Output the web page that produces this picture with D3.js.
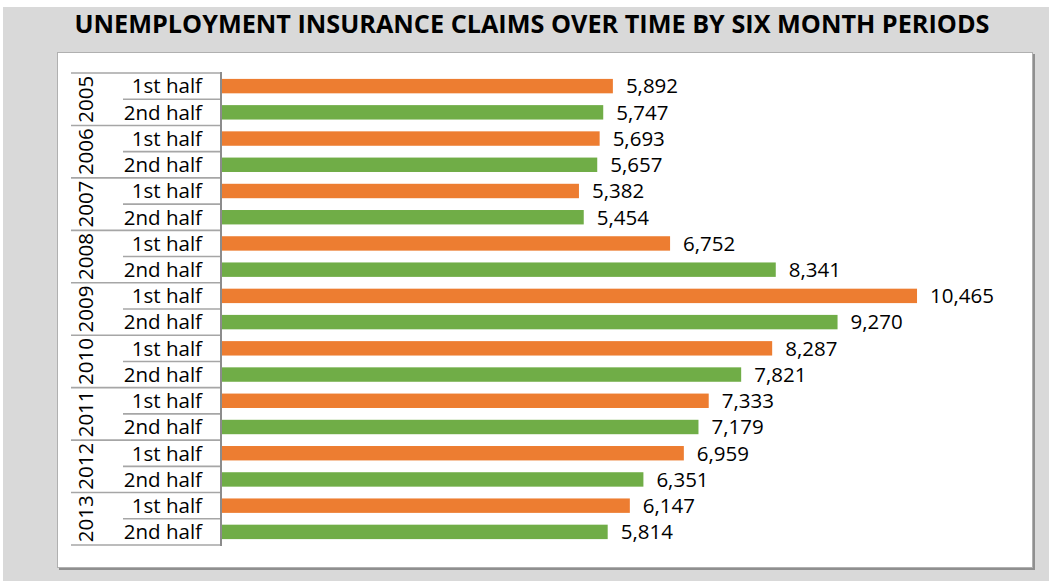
<!DOCTYPE html>
<html><head><meta charset="utf-8">
<script src="https://cdn.jsdelivr.net/npm/d3@7"></script>
<style>html,body{margin:0;padding:0;background:#fff;}svg{display:block;}</style>
</head><body>
<svg id="chart" width="1049" height="581"></svg>
<script>
const title = "UNEMPLOYMENT INSURANCE CLAIMS OVER TIME BY SIX MONTH PERIODS";
const years = ["2005","2006","2007","2008","2009","2010","2011","2012","2013"];
const halves = ["1st half","2nd half"];
const firstHalf = [5892, 5693, 5382, 6752, 10465, 8287, 7333, 6959, 6147];
const secondHalf = [5747, 5657, 5454, 8341, 9270, 7821, 7179, 6351, 5814];
const colors = {"1st half":"#ED7D31","2nd half":"#70AD47"};

const rows = [];
years.forEach((yr,i)=>{
  rows.push({year:yr, half:halves[0], value:firstHalf[i], key:yr+"-1"});
  rows.push({year:yr, half:halves[1], value:secondHalf[i], key:yr+"-2"});
});

const svg = d3.select("#chart");
const font = "'Open Sans', sans-serif";
const fs = 20.5;

// background
svg.append("rect").attr("x",3).attr("y",7).attr("width",1046).attr("height",574).attr("fill","#d9d9d9");
// panel shadow + panel
svg.append("rect").attr("x",59).attr("y",54).attr("width",976).attr("height",516).attr("fill","#8f8f8f");
svg.append("rect").attr("x",57.5).attr("y",52.5).attr("width",975).attr("height",515).attr("fill","#fff").attr("stroke","#b0b0b0").attr("stroke-width",1);

// title
svg.append("text").attr("x",532).attr("y",33).attr("text-anchor","middle")
  .attr("font-family",font).attr("font-weight","bold").attr("font-size",25)
  .attr("fill","#000").attr("textLength",915).attr("lengthAdjust","spacingAndGlyphs")
  .text(title);

const x0 = 221, plotTop = 73, plotBottom = 545;
const x = d3.scaleLinear().domain([0,12000]).range([x0, x0 + 12000*0.06651]);
const y = d3.scaleBand().domain(rows.map(d=>d.key)).range([plotTop,plotBottom]).paddingInner(0.45).paddingOuter(0.225);
const step = y.step();
const rowY = i => plotTop + i*step;

// bars
svg.append("g").selectAll("rect").data(rows).join("rect")
  .attr("x", x(0)).attr("y", d=>y(d.key))
  .attr("width", d=>x(d.value)-x(0)).attr("height", y.bandwidth())
  .attr("fill", d=>colors[d.half]);

// value labels
svg.append("g").selectAll("text").data(rows).join("text")
  .attr("x", d=>x(d.value)+13).attr("y", d=>y(d.key)+y.bandwidth()/2)
  .attr("dy","0.36em").attr("font-family",font).attr("font-size",fs).attr("fill","#000")
  .text(d=>d3.format(",")(d.value));

// category axis lines
const g = svg.append("g");
for (let i=0;i<=rows.length;i++){
  const yearBoundary = (i%2===0);
  g.append("line").attr("x1", yearBoundary?71:123).attr("x2", x0)
    .attr("y1", rowY(i)).attr("y2", rowY(i))
    .attr("stroke","#a6a6a6").attr("stroke-width",1.6);
}
g.append("line").attr("x1",x0).attr("x2",x0).attr("y1",plotTop-1).attr("y2",plotBottom+1)
  .attr("stroke","#8c8c8c").attr("stroke-width",2);

// half labels
svg.append("g").selectAll("text").data(rows).join("text")
  .attr("x", 202).attr("y", (d,i)=>rowY(i)+step/2)
  .attr("dy","0.36em").attr("text-anchor","end")
  .attr("font-family",font).attr("font-size",fs).attr("fill","#000")
  .text(d=>d.half);

// year labels
svg.append("g").selectAll("text").data(years).join("text")
  .attr("transform",(d,i)=>`translate(86,${rowY(2*i)+step}) rotate(-90)`)
  .attr("dy","0.36em").attr("text-anchor","middle")
  .attr("font-family",font).attr("font-size",fs).attr("fill","#000")
  .text(d=>d);
</script>
</body></html>
